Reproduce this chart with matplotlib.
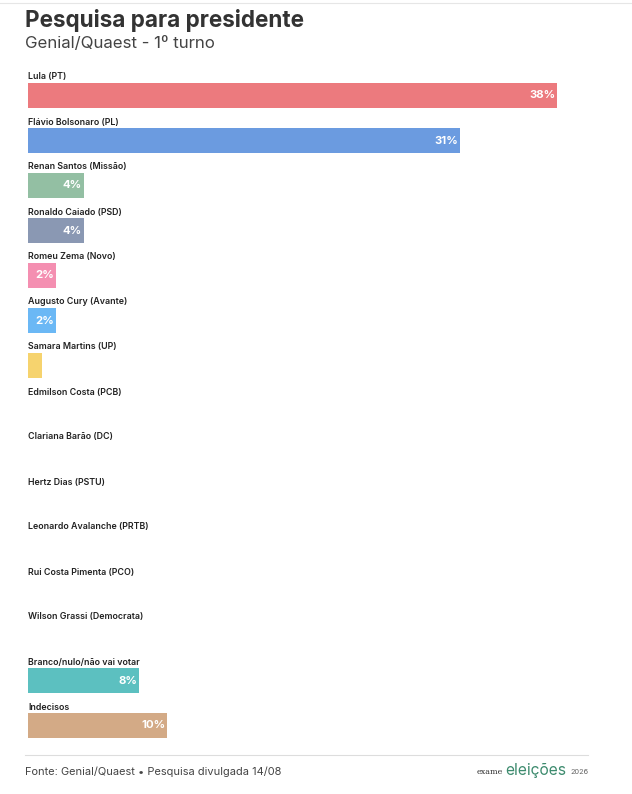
import matplotlib
matplotlib.use("Agg")
import matplotlib.pyplot as plt
from matplotlib.lines import Line2D

plt.rcParams['font.family'] = ['Inter', 'DejaVu Sans']

candidatos = ["Lula (PT)", "Flávio Bolsonaro (PL)", "Renan Santos (Missão)",
              "Ronaldo Caiado (PSD)", "Romeu Zema (Novo)", "Augusto Cury (Avante)",
              "Samara Martins (UP)", "Edmilson Costa (PCB)", "Clariana Barão (DC)",
              "Hertz Dias (PSTU)", "Leonardo Avalanche (PRTB)", "Rui Costa Pimenta (PCO)",
              "Wilson Grassi (Democrata)", "Branco/nulo/não vai votar", "Indecisos"]
valores = [38, 31, 4, 4, 2, 2, 1, 0, 0, 0, 0, 0, 0, 8, 10]
rotulos = ["38%", "31%", "4%", "4%", "2%", "2%", "", "", "", "", "", "", "", "8%", "10%"]
cores = ["#ec7a7e", "#6b9be0", "#93bfa3", "#8a98b3", "#f48fb1", "#6bb8f5",
         "#f6d36e", "#cccccc", "#cccccc", "#cccccc", "#cccccc", "#cccccc",
         "#cccccc", "#5cc0c0", "#d3aa86"]

W, H = 632, 794
fig = plt.figure(figsize=(W / 100, H / 100), dpi=100)
fig.patch.set_facecolor("white")

px_per = 13.92
ax = fig.add_axes([28 / W, 0, 560 / W, 1])
ax.set_xlim(0, 560 / px_per)
ax.set_ylim(H, 0)
ax.axis("off")

for i, (nome, v, r, c) in enumerate(zip(candidatos, valores, rotulos, cores)):
    yc = 95.5 + 45 * i
    if v > 0:
        ax.barh(yc, v, height=25, color=c, left=0)
    ax.text(0, yc - 18.5, nome, fontsize=6.4, fontweight="semibold",
            color="#222222", va="center", ha="left")
    if r:
        ax.text(v - 0.12, yc, r, fontsize=8.2, fontweight="bold",
                color="white", va="center", ha="right")

fig.text(25 / W, 1 - 20 / H, "Pesquisa para presidente", fontsize=16.2,
         fontweight="bold", color="#333333", va="center", ha="left")
fig.text(25 / W, 1 - 44 / H, "Genial/Quaest - 1º turno", fontsize=12.1,
         color="#444444", va="center", ha="left")

fig.add_artist(Line2D([0, 1], [1 - 3 / H, 1 - 3 / H], color="#e6e6e6", lw=0.8))
fig.add_artist(Line2D([25 / W, 588 / W], [1 - 755 / H, 1 - 755 / H],
                      color="#dddddd", lw=0.8))

fig.text(25 / W, 1 - 772 / H, "Fonte: Genial/Quaest • Pesquisa divulgada 14/08",
         fontsize=7.95, color="#444444", va="center", ha="left")
fig.text(503 / W, 1 - 772 / H, "exame", fontsize=5.8, family="DejaVu Serif",
         color="#333333", va="center", ha="right")
fig.text(505 / W, 1 - 771 / H, "eleições", fontsize=11.2, color="#3d8b6e",
         va="center", ha="left")
fig.text(570 / W, 1 - 772 / H, "2026", fontsize=5.3, color="#666666",
         va="center", ha="left")

fig.savefig("out.png", dpi=100, facecolor="white")
